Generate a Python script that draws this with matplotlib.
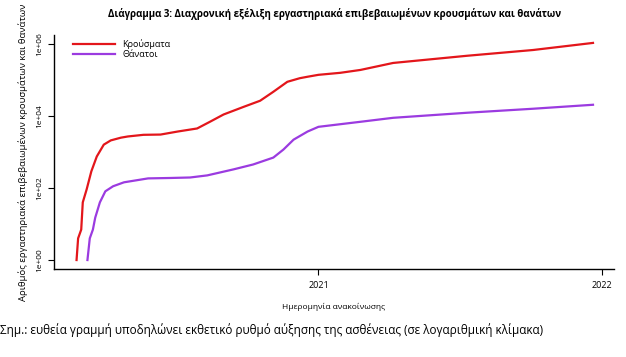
import matplotlib
matplotlib.use("Agg")
import matplotlib.pyplot as plt
import pandas as pd

# values (log scale)
case_dates = ["2020-02-25","2020-02-27","2020-03-02","2020-03-04","2020-03-09","2020-03-15",
	"2020-03-22","2020-03-31","2020-04-09","2020-04-22","2020-05-01","2020-05-21","2020-06-12",
	"2020-07-04","2020-07-29","2020-08-15","2020-09-01","2020-09-27","2020-10-18","2020-11-04",
	"2020-11-22","2020-12-08","2020-12-18","2021-01-01","2021-01-29","2021-02-24","2021-04-07",
	"2021-07-11","2021-10-04","2021-12-20"]
cases = [1,4,7,40,92,290,750,1600,2100,2500,2700,3000,3050,3700,4500,7000,11000,18000,26500,
	47000,89000,112000,123000,139000,158000,190000,297000,470000,680000,1070000]

death_dates = ["2020-03-10","2020-03-13","2020-03-17","2020-03-20","2020-03-26","2020-04-02",
	"2020-04-12","2020-04-26","2020-05-27","2020-06-25","2020-07-20","2020-08-11","2020-09-14",
	"2020-10-09","2020-11-04","2020-11-17","2020-11-30","2020-12-18","2021-01-01","2021-02-24",
	"2021-04-07","2021-07-11","2021-10-04","2021-12-20"]
deaths = [1,4,7,15,40,81,112,144,185,190,196,224,330,450,700,1170,2200,3700,5000,6900,8900,
	12300,15900,20500]

ytick_vals = [1,1e2,1e4,1e6]
ytick_labels = ["1e+00","1e+02","1e+04","1e+06"]
xtick_vals = ["2021-01-01","2022-01-01"]
xtick_labels = ["2021","2022"]

fnt = "Open Sans"
fig = plt.figure(figsize=(6.26,3.57), dpi=100)
ax = fig.add_axes([54/626, 1-269/357, (614-54)/626, (269-35)/357])

ax.plot(pd.to_datetime(case_dates), cases, color="#e3161b", lw=1.6, label="Κρούσματα")
ax.plot(pd.to_datetime(death_dates), deaths, color="#9b3be0", lw=1.6, label="Θάνατοι")

ax.set_yscale("log")
ax.set_ylim(10**-0.249, 10**6.249)
ax.set_xlim(pd.Timestamp("2020-01-27"), pd.Timestamp("2022-01-16"))
ax.minorticks_off()
ax.set_yticks(ytick_vals)
ax.set_yticklabels(ytick_labels, rotation=90, va="center", fontsize=6, family=fnt)
ax.set_xticks(pd.to_datetime(xtick_vals))
ax.set_xticklabels(xtick_labels, fontsize=6.5, family=fnt)
ax.tick_params(length=4, width=0.8)
ax.tick_params(axis="x", pad=5)
ax.tick_params(axis="y", pad=4)

for s in ["top","right"]:
	ax.spines[s].set_visible(False)
ax.spines["left"].set_linewidth(1)
ax.spines["bottom"].set_linewidth(1)

ax.set_xlabel("Ημερομηνία ανακοίνωσης", fontsize=6, family=fnt, labelpad=9)
ax.set_ylabel("Αριθμός εργαστηριακά επιβεβαιωμένων κρουσμάτων και θανάτων", fontsize=6.8, family=fnt, labelpad=6)

ax.legend(loc="upper left", bbox_to_anchor=(0.02,1.015), frameon=False,
	prop={"family":fnt,"size":6.5}, handlelength=4.6, labelspacing=0.05, handletextpad=0.8)

fig.text(335/626, 1-14/357, "Διάγραμμα 3: Διαχρονική εξέλιξη εργαστηριακά επιβεβαιωμένων κρουσμάτων και θανάτων",
	ha="center", va="center", fontsize=7, fontweight="bold", family=fnt)
fig.text(0.0, 1-330/357, "Σημ.: ευθεία γραμμή υποδηλώνει εκθετικό ρυθμό αύξησης της ασθένειας (σε λογαριθμική κλίμακα)",
	ha="left", va="center", fontsize=8.5, family=fnt)

fig.savefig("out.png", dpi=100)
plt.close()
